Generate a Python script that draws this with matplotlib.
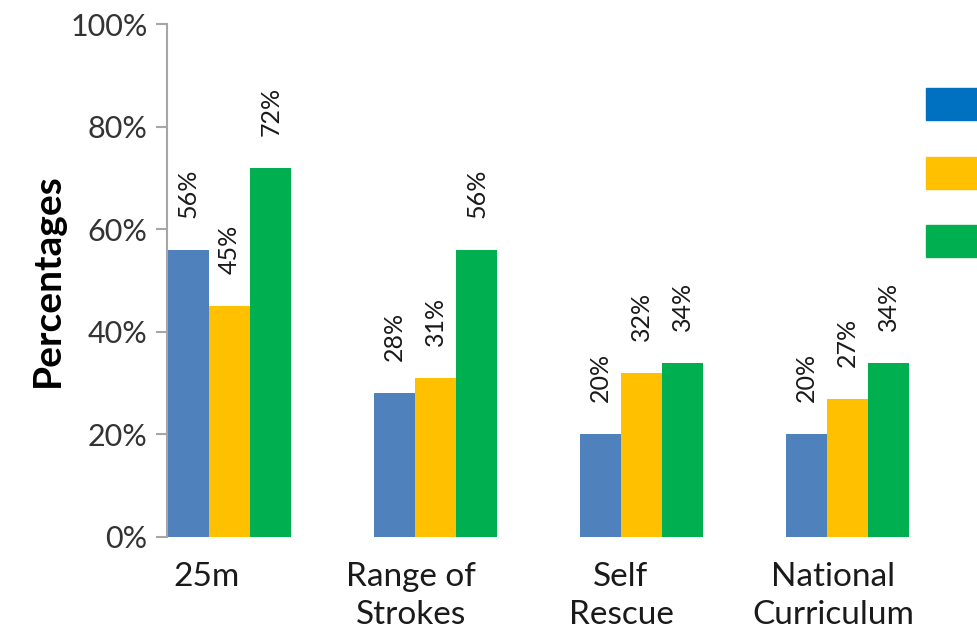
import matplotlib.pyplot as plt
from matplotlib.patches import Patch
import numpy as np

plt.rcParams['font.family'] = ['Lato', 'DejaVu Sans']

categories = ['25m', 'Range of\nStrokes', 'Self\nRescue', 'National\nCurriculum']
series_a = [56, 28, 20, 20]
series_b = [45, 31, 32, 27]
series_c = [72, 56, 34, 34]
label_shift = [-0.11, -0.12, -0.10, -0.07]  # category labels sit a bit left of centre

bar_colors = ['#4F81BD', '#FFC000', '#00B050']
legend_colors = ['#0070C0', '#FFC000', '#00B050']

fig = plt.figure(figsize=(9.77, 6.34), dpi=100)
ax = fig.add_axes([0.171, 0.153, 0.781, 0.809])

x = np.arange(len(categories))
w = 0.2
for i, (vals, col) in enumerate(zip([series_a, series_b, series_c], bar_colors)):
    pos = x + (i - 1) * w
    bars = ax.bar(pos, vals, width=w, color=col, zorder=2)
    for b, v in zip(bars, vals):
        ax.annotate(f'{v}%', (b.get_x() + b.get_width() / 2, v),
                    xytext=(0, 23), textcoords='offset points',
                    rotation=90, ha='center', va='bottom', fontsize=18,
                    color='#1a1a1a')

ax.set_xlim(-0.303, 3.4)
ax.set_ylim(0, 100)
ax.set_yticks(range(0, 101, 20))
ax.set_yticklabels([f'{t}%' for t in range(0, 101, 20)], fontsize=22, color='#333333')
ax.set_xticks(x + np.array(label_shift))
ax.set_xticklabels(categories, fontsize=24, linespacing=1.32, color='#1a1a1a')
ax.tick_params(axis='x', length=0, pad=18)
ax.tick_params(axis='y', length=8, width=1.5, color='#A6A6A6', pad=6)
ax.set_ylabel('Percentages', fontsize=28, fontweight='bold', labelpad=4)

for s in ['top', 'right', 'bottom']:
    ax.spines[s].set_visible(False)
ax.spines['left'].set_color('#A6A6A6')
ax.spines['left'].set_linewidth(1.5)

handles = [Patch(color=c) for c in legend_colors]
fig.legend(handles, ['', '', ''], loc='upper left',
           bbox_to_anchor=(926 / 977, 1 - 88 / 634), frameon=False,
           borderpad=0, borderaxespad=0, handlelength=2.5, handleheight=1.71,
           labelspacing=1.55, handletextpad=0, fontsize=17)

fig.savefig('out.png', dpi=100)
